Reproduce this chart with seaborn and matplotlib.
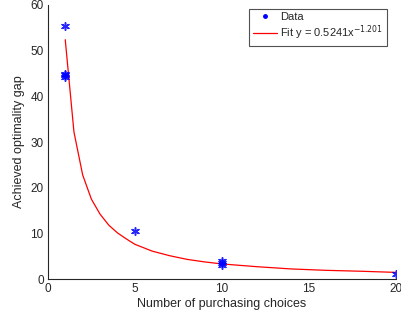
import numpy as np
import pandas as pd
import matplotlib
matplotlib.use("Agg")
import matplotlib.pyplot as plt
import seaborn as sns
from matplotlib.lines import Line2D

# --- DATA --- #
data_x = [1, 1, 1, 1, 5, 10, 10, 10, 20]
data_y = [55.4, 44.3, 44.6, 44.8, 10.6, 3.9, 3.4, 3.0, 1.2]

fit_x = [1, 1.5, 2, 2.5, 3, 3.5, 4, 4.5, 5, 6, 7, 8, 9, 10, 12, 14, 16, 18, 20]
fit_y = [52.4, 32.2, 22.8, 17.5, 14.2, 11.8, 10.1, 8.8, 7.6, 6.1, 5.1, 4.3, 3.75,
         3.3, 2.7, 2.2, 1.9, 1.7, 1.45]

x_ticks = [0, 5, 10, 15, 20]
y_ticks = [0, 10, 20, 30, 40, 50, 60]

df_data = pd.DataFrame({"x": data_x, "y": data_y})
df_fit = pd.DataFrame({"x": fit_x, "y": fit_y})

# --- STYLE --- #
sns.set_theme(style="white")
plt.rcParams["font.family"] = ["Liberation Sans", "DejaVu Sans"]
plt.rcParams["font.size"] = 8.5

fig = plt.figure(figsize=(4.02, 3.22), dpi=100)
ax = fig.add_axes([0.119, 0.1335, 0.866, 0.851])

# --- PLOTTING --- #
sns.lineplot(data=df_fit, x="x", y="y", ax=ax, color="red", linewidth=0.9,
             estimator=None, sort=False)
sns.scatterplot(data=df_data, x="x", y="y", ax=ax, color="blue", marker=(6, 2, 0),
                s=30, linewidth=1.1, edgecolor="blue", alpha=0.85, zorder=3)

ax.set_xlim(0, 20)
ax.set_ylim(0, 60)
ax.set_xticks(x_ticks)
ax.set_yticks(y_ticks)
ax.set_xlabel("Number of purchasing choices", fontsize=9, color="#262626", labelpad=2)
ax.set_ylabel("Achieved optimality gap", fontsize=9, color="#262626", labelpad=4)

for side in ["top", "right"]:
    ax.spines[side].set_visible(False)
for side in ["left", "bottom"]:
    ax.spines[side].set_color("#262626")
    ax.spines[side].set_linewidth(0.8)
ax.tick_params(direction="in", length=3, width=0.8, colors="#262626",
               labelsize=8.5, labelcolor="#262626", pad=3)

# --- LEGEND --- #
handles = [
    Line2D([], [], linestyle="none", marker=".", color="blue", markersize=5),
    Line2D([], [], color="red", linewidth=0.9),
]
labels = ["Data", "Fit y = 0.5241x$^{-1.201}$"]
leg = ax.legend(handles, labels, loc="upper right", bbox_to_anchor=(0.98, 0.995),
                fontsize=8, frameon=True, fancybox=False, handlelength=2.2,
                borderpad=0.3, labelspacing=0.15, handletextpad=0.3,
                borderaxespad=0.2)
leg.get_frame().set_edgecolor("#262626")
leg.get_frame().set_linewidth(0.8)

fig.savefig("out.png", dpi=100)
